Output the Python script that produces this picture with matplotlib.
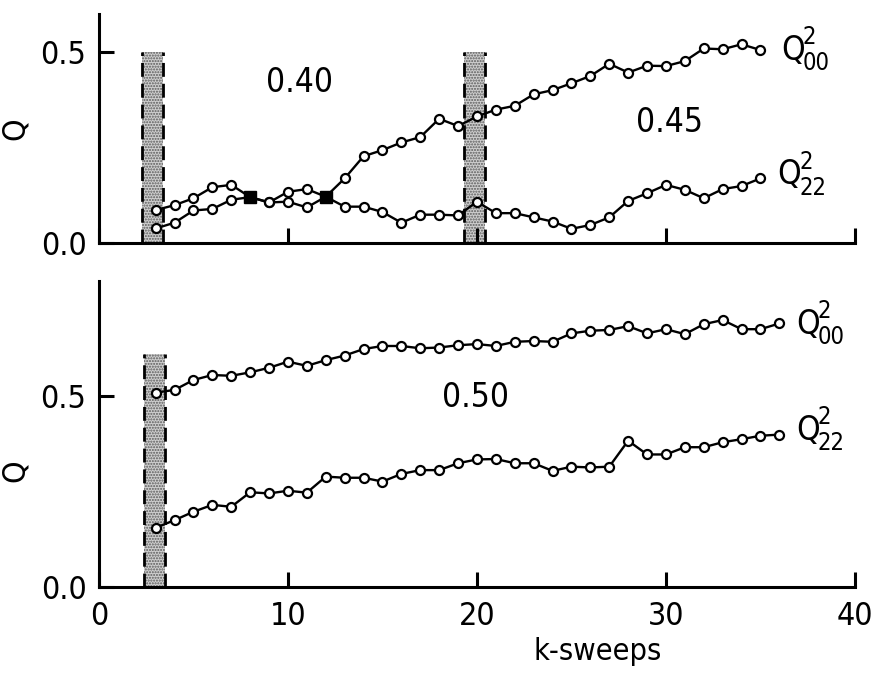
import matplotlib
matplotlib.use("Agg")
import matplotlib.pyplot as plt

# ---------------- data ----------------
x_top = list(range(3, 36))
q00_top = [0.038, 0.053, 0.085, 0.089, 0.113, 0.120, 0.106, 0.134, 0.141, 0.121,
           0.169, 0.227, 0.243, 0.263, 0.277, 0.325, 0.306, 0.331, 0.349, 0.359,
           0.389, 0.400, 0.418, 0.437, 0.469, 0.446, 0.464, 0.463, 0.476, 0.509,
           0.507, 0.520, 0.505]
q22_top = [0.086, 0.099, 0.117, 0.146, 0.152, 0.120, 0.106, 0.108, 0.093, 0.121,
           0.095, 0.095, 0.081, 0.053, 0.074, 0.074, 0.072, 0.108, 0.078, 0.078,
           0.067, 0.056, 0.037, 0.047, 0.067, 0.110, 0.130, 0.152, 0.139, 0.117,
           0.141, 0.149, 0.169]
cross_x_top = [8, 12]

x_bot = list(range(3, 37))
q00_bot = [0.509, 0.516, 0.542, 0.555, 0.553, 0.562, 0.574, 0.590, 0.579, 0.594,
           0.606, 0.623, 0.631, 0.631, 0.625, 0.627, 0.633, 0.636, 0.631, 0.642,
           0.644, 0.642, 0.664, 0.671, 0.673, 0.683, 0.664, 0.675, 0.662, 0.688,
           0.699, 0.675, 0.675, 0.690]
q22_bot = [0.155, 0.175, 0.197, 0.215, 0.210, 0.248, 0.245, 0.252, 0.247, 0.289,
           0.286, 0.286, 0.276, 0.296, 0.306, 0.306, 0.324, 0.334, 0.335, 0.324,
           0.324, 0.304, 0.315, 0.313, 0.315, 0.383, 0.347, 0.347, 0.366, 0.366,
           0.379, 0.387, 0.396, 0.399]

bands_top = [(2.3, 3.4, 0.50), (19.3, 20.4, 0.50)]
bands_bot = [(2.4, 3.5, 0.61)]

temp_top = [("0.40", 10.6, 0.42), ("0.45", 30.2, 0.314)]
temp_bot = [("0.50", 19.9, 0.497)]

# series labels: (main, superscript, subscript, x, y)
labels_top = [("Q", "2", "00", 36.1, 0.505), ("Q", "2", "22", 35.9, 0.178)]
labels_bot = [("Q", "2", "00", 36.9, 0.688), ("Q", "2", "22", 36.9, 0.411)]

xticks = [0, 10, 20, 30, 40]
yticks = [0.0, 0.5]
ytick_labels = ["0.0", "0.5"]

# ---------------- style ----------------
plt.rcParams["font.family"] = ["DejaVu Sans"]
plt.rcParams["font.stretch"] = "condensed"
plt.rcParams["hatch.color"] = "#5a5a5a"
plt.rcParams["hatch.linewidth"] = 1.0

FS_TICK = 23
FS_TEXT = 24
LW_AX = 2.2

fig = plt.figure(figsize=(8.75, 6.73), dpi=100)
ax1 = fig.add_axes([0.1131, 0.639, 0.864, 0.3406])
ax2 = fig.add_axes([0.1131, 0.1278, 0.864, 0.454])


def style_axes(ax, ymax, show_xlabels):
    ax.set_xlim(0, 40)
    ax.set_ylim(0, ymax)
    for s in ("top", "right"):
        ax.spines[s].set_visible(False)
    for s in ("left", "bottom"):
        ax.spines[s].set_linewidth(LW_AX)
    ax.set_xticks(xticks)
    ax.set_yticks(yticks)
    ax.set_yticklabels(ytick_labels)
    ax.tick_params(direction="in", length=11, width=LW_AX, labelsize=FS_TICK)
    ax.tick_params(axis="y", pad=9)
    ax.tick_params(axis="x", pad=10)
    if not show_xlabels:
        ax.tick_params(axis="x", labelbottom=False)
    ax.set_ylabel("Q", fontsize=FS_TICK)
    ax.patch.set_alpha(0)


def draw_bands(ax, bands):
    for x0, x1, h in bands:
        ax.fill_betweenx([0, h], x0, x1, facecolor="#cfcfcf", hatch="......",
                         edgecolor="#5a5a5a", linewidth=0, zorder=1)
        for xe in (x0, x1):
            ax.plot([xe, xe], [0, h], color="black", lw=2.0,
                    linestyle=(0, (5, 2.5)), zorder=2)


def draw_series(ax, x, y):
    ax.plot(x, y, color="black", lw=1.7, marker="o", markersize=6.5,
            markerfacecolor="white", markeredgecolor="black", markeredgewidth=1.6,
            zorder=3)


def draw_label(ax, main, sup, sub, x, y):
    ax.annotate(main, (x, y), xytext=(0, 0), textcoords="offset points",
                fontsize=FS_TEXT, ha="left", va="center")
    ax.annotate(sup, (x, y), xytext=(15.5, 9.5), textcoords="offset points",
                fontsize=17, ha="left", va="center")
    ax.annotate(sub, (x, y), xytext=(15.5, -9.5), textcoords="offset points",
                fontsize=17, ha="left", va="center")


# top panel
style_axes(ax1, 0.60, False)
draw_bands(ax1, bands_top)
draw_series(ax1, x_top, q00_top)
draw_series(ax1, x_top, q22_top)
cy = [q00_top[x_top.index(x)] for x in cross_x_top]
ax1.plot(cross_x_top, cy, linestyle="none", marker="s", markersize=8,
         color="black", zorder=4)
for t, x, y in temp_top:
    ax1.text(x, y, t, fontsize=FS_TEXT, ha="center", va="center")
for lab in labels_top:
    draw_label(ax1, *lab)
ax1.yaxis.set_label_coords(-0.09, 0.5)

# bottom panel
style_axes(ax2, 0.80, True)
draw_bands(ax2, bands_bot)
draw_series(ax2, x_bot, q00_bot)
draw_series(ax2, x_bot, q22_bot)
for t, x, y in temp_bot:
    ax2.text(x, y, t, fontsize=FS_TEXT, ha="center", va="center")
for lab in labels_bot:
    draw_label(ax2, *lab)
ax2.yaxis.set_label_coords(-0.09, 0.38)
ax2.set_xlabel("k-sweeps", fontsize=22)
ax2.xaxis.set_label_coords(0.66, -0.165)

fig.savefig("out.png", dpi=100)
